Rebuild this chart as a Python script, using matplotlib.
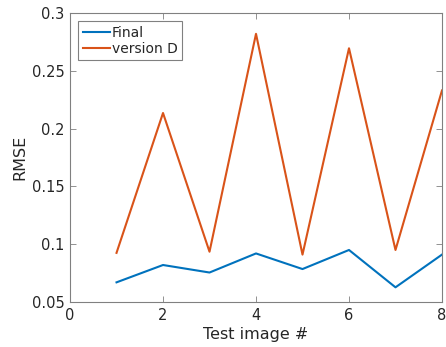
import matplotlib
matplotlib.use("Agg")
import matplotlib.pyplot as plt

test_image = [1, 2, 3, 4, 5, 6, 7, 8]
rmse_final = [0.067, 0.082, 0.0755, 0.092, 0.0785, 0.095, 0.0627, 0.091]
rmse_version_d = [0.0925, 0.2135, 0.0935, 0.282, 0.091, 0.2695, 0.095, 0.233]

x_ticks = [0, 2, 4, 6, 8]
y_ticks = [0.05, 0.1, 0.15, 0.2, 0.25, 0.3]
y_tick_labels = ["0.05", "0.1", "0.15", "0.2", "0.25", "0.3"]

axis_gray = (0.15, 0.15, 0.15)
fig = plt.figure(figsize=(4.46, 3.47), dpi=100)
ax = fig.add_axes([0.157, 0.1297, 0.834, 0.8328])

ax.plot(test_image, rmse_final, color=(0.0, 0.447, 0.741), lw=1.5, label="Final")
ax.plot(test_image, rmse_version_d, color=(0.85, 0.325, 0.098), lw=1.5, label="version D")

ax.set_xlim(0, 8)
ax.set_ylim(0.05, 0.3)
ax.set_xticks(x_ticks)
ax.set_yticks(y_ticks)
ax.set_yticklabels(y_tick_labels)
ax.tick_params(direction="in", top=True, right=True, length=4, width=0.6,
               colors=(0.5, 0.5, 0.5), labelcolor=axis_gray, labelsize=10.5, pad=4)
for s in ax.spines.values():
    s.set_color((0.5, 0.5, 0.5))
    s.set_linewidth(0.8)

ax.set_xlabel("Test image #", fontsize=11.5, color=axis_gray, labelpad=3)
ax.set_ylabel("RMSE", fontsize=11.5, color=axis_gray, labelpad=3)

leg = ax.legend(loc="upper left", fontsize=10, handlelength=1.95, handletextpad=0.15,
                borderpad=0.3, labelspacing=0.15, fancybox=False, framealpha=1,
                borderaxespad=0.6)
leg.get_frame().set_edgecolor((0.5, 0.5, 0.5))
leg.get_frame().set_linewidth(0.8)
for t in leg.get_texts():
    t.set_color(axis_gray)

fig.savefig("out.png", dpi=100)
